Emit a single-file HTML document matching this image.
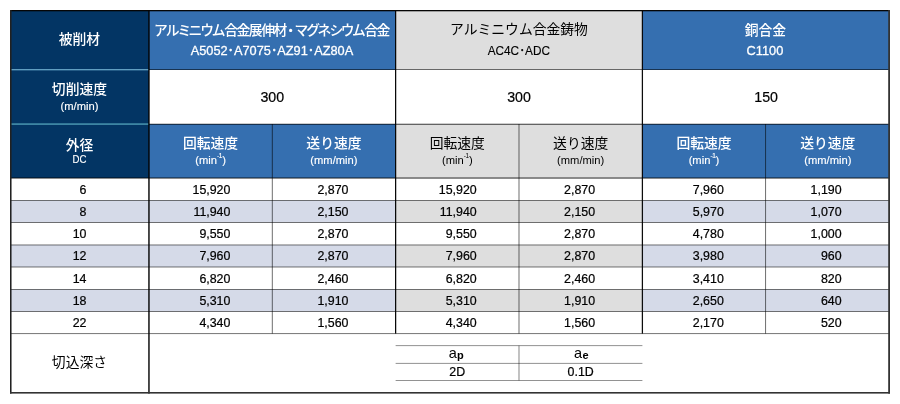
<!DOCTYPE html>
<html lang="ja">
<head>
<meta charset="utf-8">
<title>切削条件表</title>
<style>
html,body{margin:0;padding:0;background:#fff;}
body{width:900px;height:404px;position:relative;overflow:hidden;font-family:"Liberation Sans","Noto Sans CJK JP",sans-serif;}
svg{position:absolute;left:0;top:0;}
#txt{position:absolute;left:0;top:0;width:900px;height:404px;will-change:transform;}
.t{position:absolute;text-align:center;white-space:nowrap;box-sizing:border-box;}
.w{color:#fff;}
.k{color:#000;}
.jp{font-size:13.8px;font-weight:500;}
.jp.k{font-weight:400;}
.sm{font-size:11.2px;}
.dc{font-size:10.4px;}
.sx{display:inline-block;transform-origin:50% 50%;}
.sm sup{font-size:6.5px;vertical-align:0;position:relative;top:-5.6px;line-height:0;letter-spacing:-0.3px;}
.en{font-size:13.2px;}
.en.w{-webkit-text-stroke:0.3px #fff;}
.en.k{-webkit-text-stroke:0.15px #000;}
.sm.w,.dc.w{-webkit-text-stroke:0.15px #fff;}
.sp{font-size:14.2px;-webkit-text-stroke:0.2px #000;}
.d{font-size:12.4px;-webkit-text-stroke:0.22px #000;}
.ap{font-size:14.5px;}
.ap b{font-size:11px;font-weight:700;position:relative;top:0.8px;margin-left:0.3px;}
.m1{font-feature-settings:"palt";}
.m1 .kana{letter-spacing:-0.9px;}
.m1 .k2{letter-spacing:-1.2px;}
.m1 .kj{letter-spacing:-1.52px;}
.m1 .dot{letter-spacing:0;margin:0 1.2px 0 1.5px;}
</style>
</head>
<body>
<svg width="900" height="404" viewBox="0 0 900 404">
<rect x="10.00" y="10.00" width="138.95" height="168.00" fill="#033564"/>
<rect x="148.95" y="10.00" width="246.67" height="60.00" fill="#356fb0"/>
<rect x="395.62" y="10.00" width="246.78" height="60.00" fill="#dedede"/>
<rect x="642.40" y="10.00" width="247.60" height="60.00" fill="#356fb0"/>
<rect x="148.95" y="124.00" width="246.67" height="54.00" fill="#356fb0"/>
<rect x="395.62" y="124.00" width="246.78" height="54.00" fill="#dedede"/>
<rect x="642.40" y="124.00" width="247.60" height="54.00" fill="#356fb0"/>
<rect x="10.00" y="200.47" width="385.62" height="22.03" fill="#d5dae8"/>
<rect x="395.62" y="200.47" width="246.78" height="22.03" fill="#dedede"/>
<rect x="642.40" y="200.47" width="247.60" height="22.03" fill="#d5dae8"/>
<rect x="10.00" y="244.97" width="385.62" height="22.03" fill="#d5dae8"/>
<rect x="395.62" y="244.97" width="246.78" height="22.03" fill="#dedede"/>
<rect x="642.40" y="244.97" width="247.60" height="22.03" fill="#d5dae8"/>
<rect x="10.00" y="289.47" width="385.62" height="22.03" fill="#d5dae8"/>
<rect x="395.62" y="289.47" width="246.78" height="22.03" fill="#dedede"/>
<rect x="642.40" y="289.47" width="247.60" height="22.03" fill="#d5dae8"/>
<rect x="10.00" y="69.01" width="138.95" height="1.35" fill="#62a0c2"/>
<rect x="10.00" y="123.20" width="138.95" height="1.80" fill="#3d85a3"/>
<rect x="148.95" y="69.10" width="741.05" height="0.90" fill="#000" fill-opacity="0.6"/>
<rect x="148.95" y="123.67" width="741.05" height="1.25" fill="#000" fill-opacity="0.6"/>
<rect x="10.00" y="177.45" width="880.00" height="1.20" fill="#000" fill-opacity="0.7"/>
<rect x="10.00" y="200.02" width="880.00" height="0.90" fill="#000" fill-opacity="0.6"/>
<rect x="10.00" y="222.05" width="880.00" height="0.90" fill="#000" fill-opacity="0.6"/>
<rect x="10.00" y="244.52" width="880.00" height="0.90" fill="#000" fill-opacity="0.6"/>
<rect x="10.00" y="266.55" width="880.00" height="0.90" fill="#000" fill-opacity="0.6"/>
<rect x="10.00" y="289.02" width="880.00" height="0.90" fill="#000" fill-opacity="0.6"/>
<rect x="10.00" y="311.05" width="880.00" height="0.90" fill="#000" fill-opacity="0.6"/>
<rect x="10.00" y="333.17" width="880.00" height="0.90" fill="#000" fill-opacity="0.6"/>
<rect x="395.62" y="345.20" width="246.78" height="0.90" fill="#000" fill-opacity="0.48"/>
<rect x="395.62" y="362.90" width="246.78" height="0.90" fill="#000" fill-opacity="0.48"/>
<rect x="395.62" y="380.00" width="246.78" height="0.90" fill="#000" fill-opacity="0.48"/>
<rect x="518.52" y="345.65" width="0.95" height="34.80" fill="#000" fill-opacity="0.5"/>
<rect x="271.82" y="124.00" width="0.95" height="209.62" fill="#000" fill-opacity="0.6"/>
<rect x="518.52" y="124.00" width="0.95" height="209.62" fill="#000" fill-opacity="0.6"/>
<rect x="765.11" y="124.00" width="0.95" height="209.62" fill="#000" fill-opacity="0.6"/>
<rect x="148.07" y="10.00" width="1.75" height="383.60" fill="#000" fill-opacity="0.8"/>
<rect x="395.00" y="10.00" width="1.25" height="323.62" fill="#000" fill-opacity="0.97"/>
<rect x="641.77" y="10.00" width="1.25" height="323.62" fill="#000" fill-opacity="0.95"/>
<rect x="10.00" y="10.00" width="880.00" height="1.30" fill="#050505"/>
<rect x="10.00" y="10.00" width="1.55" height="383.60" fill="#212121"/>
<rect x="888.20" y="10.00" width="1.80" height="383.60" fill="#333"/>
<rect x="10.00" y="392.00" width="880.00" height="1.60" fill="#333"/>
</svg>
<div id="txt">
<div class="t jp w" style="left:10.0px;top:31.5px;width:138.9px;height:16.0px;line-height:16.0px;">被削材</div>
<div class="t jp w" style="left:10.0px;top:81.5px;width:138.9px;height:16.0px;line-height:16.0px;">切削速度</div>
<div class="t sm w" style="left:10.0px;top:99.6px;width:138.9px;height:12.0px;line-height:12.0px;">(m/min)</div>
<div class="t jp w" style="left:10.0px;top:137.7px;width:138.9px;height:16.0px;line-height:16.0px;">外径</div>
<div class="t dc w" style="left:10.0px;top:154.2px;width:138.9px;height:12.0px;line-height:12.0px;"><span class="sx" style="transform:scaleX(0.93)">DC</span></div>
<div class="t jp k" style="left:10.0px;top:355.0px;width:138.9px;height:16.0px;line-height:16.0px;">切込深さ</div>
<div class="t jp w m1" style="left:148.4px;top:22.5px;width:246.7px;height:16.0px;line-height:16.0px;"><span class="kana">アルミニウム</span><span class="kj">合金展伸材</span><span class="dot">・</span><span class="kana k2">マグネシウム</span><span class="kj">合金</span></div>
<div class="t en w" style="left:148.9px;top:43.0px;width:246.7px;height:16.0px;line-height:16.0px;"><span class="sx" style="transform:scaleX(0.968)">A5052･A7075･AZ91･AZ80A</span></div>
<div class="t jp k" style="left:395.6px;top:22.0px;width:246.8px;height:16.0px;line-height:16.0px;">アルミニウム合金鋳物</div>
<div class="t en k" style="left:395.6px;top:43.0px;width:246.8px;height:16.0px;line-height:16.0px;"><span class="sx" style="transform:scaleX(0.894)">AC4C･ADC</span></div>
<div class="t jp w" style="left:641.6px;top:22.5px;width:247.6px;height:16.0px;line-height:16.0px;">銅合金</div>
<div class="t en w" style="left:641.2px;top:43.0px;width:247.6px;height:16.0px;line-height:16.0px;"><span class="sx" style="transform:scaleX(0.97)">C1100</span></div>
<div class="t sp k" style="left:148.9px;top:70.0px;width:246.7px;height:54.0px;line-height:54.0px;">300</div>
<div class="t sp k" style="left:395.6px;top:70.0px;width:246.8px;height:54.0px;line-height:54.0px;">300</div>
<div class="t sp k" style="left:642.4px;top:70.0px;width:247.6px;height:54.0px;line-height:54.0px;">150</div>
<div class="t jp w" style="left:148.9px;top:135.5px;width:123.4px;height:16.0px;line-height:16.0px;">回転速度</div>
<div class="t sm w" style="left:148.9px;top:154.0px;width:123.4px;height:12.0px;line-height:12.0px;">(min<sup>-1</sup>)</div>
<div class="t jp w" style="left:272.3px;top:135.5px;width:123.3px;height:16.0px;line-height:16.0px;">送り速度</div>
<div class="t sm w" style="left:272.3px;top:154.0px;width:123.3px;height:12.0px;line-height:12.0px;">(mm/min)</div>
<div class="t jp k" style="left:395.6px;top:135.5px;width:123.4px;height:16.0px;line-height:16.0px;">回転速度</div>
<div class="t sm k" style="left:395.6px;top:154.0px;width:123.4px;height:12.0px;line-height:12.0px;">(min<sup>-1</sup>)</div>
<div class="t jp k" style="left:519.0px;top:135.5px;width:123.4px;height:16.0px;line-height:16.0px;">送り速度</div>
<div class="t sm k" style="left:519.0px;top:154.0px;width:123.4px;height:12.0px;line-height:12.0px;">(mm/min)</div>
<div class="t jp w" style="left:642.4px;top:135.5px;width:123.2px;height:16.0px;line-height:16.0px;">回転速度</div>
<div class="t sm w" style="left:642.4px;top:154.0px;width:123.2px;height:12.0px;line-height:12.0px;">(min<sup>-1</sup>)</div>
<div class="t jp w" style="left:765.6px;top:135.5px;width:124.4px;height:16.0px;line-height:16.0px;">送り速度</div>
<div class="t sm w" style="left:765.6px;top:154.0px;width:124.4px;height:12.0px;line-height:12.0px;">(mm/min)</div>
<div class="t d k" style="left:10.0px;top:178.7px;width:76.5px;height:22.2px;line-height:22.2px;text-align:right;">6</div>
<div class="t d k" style="left:148.9px;top:178.7px;width:81.5px;height:22.2px;line-height:22.2px;text-align:right;">15,920</div>
<div class="t d k" style="left:272.3px;top:178.7px;width:76.2px;height:22.2px;line-height:22.2px;text-align:right;">2,870</div>
<div class="t d k" style="left:395.6px;top:178.7px;width:81.1px;height:22.2px;line-height:22.2px;text-align:right;">15,920</div>
<div class="t d k" style="left:519.0px;top:178.7px;width:76.1px;height:22.2px;line-height:22.2px;text-align:right;">2,870</div>
<div class="t d k" style="left:642.4px;top:178.7px;width:81.4px;height:22.2px;line-height:22.2px;text-align:right;">7,960</div>
<div class="t d k" style="left:765.6px;top:178.7px;width:76.0px;height:22.2px;line-height:22.2px;text-align:right;">1,190</div>
<div class="t d k" style="left:10.0px;top:200.9px;width:76.5px;height:22.2px;line-height:22.2px;text-align:right;">8</div>
<div class="t d k" style="left:148.9px;top:200.9px;width:81.5px;height:22.2px;line-height:22.2px;text-align:right;">11,940</div>
<div class="t d k" style="left:272.3px;top:200.9px;width:76.2px;height:22.2px;line-height:22.2px;text-align:right;">2,150</div>
<div class="t d k" style="left:395.6px;top:200.9px;width:81.1px;height:22.2px;line-height:22.2px;text-align:right;">11,940</div>
<div class="t d k" style="left:519.0px;top:200.9px;width:76.1px;height:22.2px;line-height:22.2px;text-align:right;">2,150</div>
<div class="t d k" style="left:642.4px;top:200.9px;width:81.4px;height:22.2px;line-height:22.2px;text-align:right;">5,970</div>
<div class="t d k" style="left:765.6px;top:200.9px;width:76.0px;height:22.2px;line-height:22.2px;text-align:right;">1,070</div>
<div class="t d k" style="left:10.0px;top:223.2px;width:76.5px;height:22.2px;line-height:22.2px;text-align:right;">10</div>
<div class="t d k" style="left:148.9px;top:223.2px;width:81.5px;height:22.2px;line-height:22.2px;text-align:right;">9,550</div>
<div class="t d k" style="left:272.3px;top:223.2px;width:76.2px;height:22.2px;line-height:22.2px;text-align:right;">2,870</div>
<div class="t d k" style="left:395.6px;top:223.2px;width:81.1px;height:22.2px;line-height:22.2px;text-align:right;">9,550</div>
<div class="t d k" style="left:519.0px;top:223.2px;width:76.1px;height:22.2px;line-height:22.2px;text-align:right;">2,870</div>
<div class="t d k" style="left:642.4px;top:223.2px;width:81.4px;height:22.2px;line-height:22.2px;text-align:right;">4,780</div>
<div class="t d k" style="left:765.6px;top:223.2px;width:76.0px;height:22.2px;line-height:22.2px;text-align:right;">1,000</div>
<div class="t d k" style="left:10.0px;top:245.4px;width:76.5px;height:22.2px;line-height:22.2px;text-align:right;">12</div>
<div class="t d k" style="left:148.9px;top:245.4px;width:81.5px;height:22.2px;line-height:22.2px;text-align:right;">7,960</div>
<div class="t d k" style="left:272.3px;top:245.4px;width:76.2px;height:22.2px;line-height:22.2px;text-align:right;">2,870</div>
<div class="t d k" style="left:395.6px;top:245.4px;width:81.1px;height:22.2px;line-height:22.2px;text-align:right;">7,960</div>
<div class="t d k" style="left:519.0px;top:245.4px;width:76.1px;height:22.2px;line-height:22.2px;text-align:right;">2,870</div>
<div class="t d k" style="left:642.4px;top:245.4px;width:81.4px;height:22.2px;line-height:22.2px;text-align:right;">3,980</div>
<div class="t d k" style="left:765.6px;top:245.4px;width:76.0px;height:22.2px;line-height:22.2px;text-align:right;">960</div>
<div class="t d k" style="left:10.0px;top:267.7px;width:76.5px;height:22.2px;line-height:22.2px;text-align:right;">14</div>
<div class="t d k" style="left:148.9px;top:267.7px;width:81.5px;height:22.2px;line-height:22.2px;text-align:right;">6,820</div>
<div class="t d k" style="left:272.3px;top:267.7px;width:76.2px;height:22.2px;line-height:22.2px;text-align:right;">2,460</div>
<div class="t d k" style="left:395.6px;top:267.7px;width:81.1px;height:22.2px;line-height:22.2px;text-align:right;">6,820</div>
<div class="t d k" style="left:519.0px;top:267.7px;width:76.1px;height:22.2px;line-height:22.2px;text-align:right;">2,460</div>
<div class="t d k" style="left:642.4px;top:267.7px;width:81.4px;height:22.2px;line-height:22.2px;text-align:right;">3,410</div>
<div class="t d k" style="left:765.6px;top:267.7px;width:76.0px;height:22.2px;line-height:22.2px;text-align:right;">820</div>
<div class="t d k" style="left:10.0px;top:289.9px;width:76.5px;height:22.2px;line-height:22.2px;text-align:right;">18</div>
<div class="t d k" style="left:148.9px;top:289.9px;width:81.5px;height:22.2px;line-height:22.2px;text-align:right;">5,310</div>
<div class="t d k" style="left:272.3px;top:289.9px;width:76.2px;height:22.2px;line-height:22.2px;text-align:right;">1,910</div>
<div class="t d k" style="left:395.6px;top:289.9px;width:81.1px;height:22.2px;line-height:22.2px;text-align:right;">5,310</div>
<div class="t d k" style="left:519.0px;top:289.9px;width:76.1px;height:22.2px;line-height:22.2px;text-align:right;">1,910</div>
<div class="t d k" style="left:642.4px;top:289.9px;width:81.4px;height:22.2px;line-height:22.2px;text-align:right;">2,650</div>
<div class="t d k" style="left:765.6px;top:289.9px;width:76.0px;height:22.2px;line-height:22.2px;text-align:right;">640</div>
<div class="t d k" style="left:10.0px;top:312.2px;width:76.5px;height:22.2px;line-height:22.2px;text-align:right;">22</div>
<div class="t d k" style="left:148.9px;top:312.2px;width:81.5px;height:22.2px;line-height:22.2px;text-align:right;">4,340</div>
<div class="t d k" style="left:272.3px;top:312.2px;width:76.2px;height:22.2px;line-height:22.2px;text-align:right;">1,560</div>
<div class="t d k" style="left:395.6px;top:312.2px;width:81.1px;height:22.2px;line-height:22.2px;text-align:right;">4,340</div>
<div class="t d k" style="left:519.0px;top:312.2px;width:76.1px;height:22.2px;line-height:22.2px;text-align:right;">1,560</div>
<div class="t d k" style="left:642.4px;top:312.2px;width:81.4px;height:22.2px;line-height:22.2px;text-align:right;">2,170</div>
<div class="t d k" style="left:765.6px;top:312.2px;width:76.0px;height:22.2px;line-height:22.2px;text-align:right;">520</div>
<div class="t ap k" style="left:394.6px;top:345.3px;width:123.4px;height:17.7px;line-height:17.7px;">a<b>p</b></div>
<div class="t ap k" style="left:519.6px;top:345.3px;width:123.4px;height:17.7px;line-height:17.7px;">a<b>e</b></div>
<div class="t d k" style="left:395.6px;top:364.2px;width:123.4px;height:17.0px;line-height:17.0px;">2D</div>
<div class="t d k" style="left:519.0px;top:364.2px;width:123.4px;height:17.0px;line-height:17.0px;">0.1D</div>
</div>
</body>
</html>
